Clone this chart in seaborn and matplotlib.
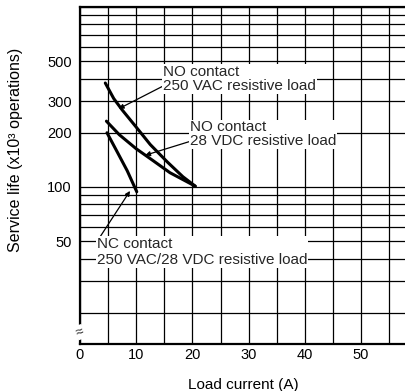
import matplotlib
matplotlib.use("Agg")
import matplotlib.pyplot as plt
import seaborn as sns
import pandas as pd
import numpy as np

# ---- data ----
no_ac_current = [4.5, 6.0, 7.5, 10.0, 12.5, 15.5, 18.3, 20.5]
no_ac_life = [378, 310, 268, 215, 172, 138, 114, 101]

no_dc_current = [4.7, 7.0, 10.0, 13.0, 16.0, 19.0, 20.5]
no_dc_life = [232, 195, 163, 140, 120, 107, 101]

nc_current = [4.8, 6.6, 8.4, 9.4, 10.1]
nc_life = [200, 157, 123, 105, 94]

y_tick_vals = [50, 100, 200, 300, 500]
y_grid_vals = [20, 30, 40, 60, 70, 80, 90, 400, 600, 700, 800, 900, 1000]
x_tick_vals = [0, 10, 20, 30, 40, 50]
x_grid_vals = [5, 15, 25, 35, 45, 55]

label_ac = "NO contact\n250 VAC resistive load"
label_dc = "NO contact\n28 VDC resistive load"
label_nc = "NC contact\n250 VAC/28 VDC resistive load"

sns.set_theme(style="white")
plt.rcParams["font.family"] = ["Liberation Sans", "DejaVu Sans"]

fig = plt.figure(figsize=(4.06, 3.91), dpi=100)
ax = fig.add_axes([80 / 406, 47 / 391, 326 / 406, 337 / 391])

df = pd.concat([
    pd.DataFrame({"x": no_ac_current, "y": no_ac_life, "s": "ac"}),
    pd.DataFrame({"x": no_dc_current, "y": no_dc_life, "s": "dc"}),
    pd.DataFrame({"x": nc_current, "y": nc_life, "s": "nc"}),
])
sns.lineplot(data=df, x="x", y="y", units="s", estimator=None, sort=False,
             color="black", linewidth=2.2, ax=ax, zorder=5)

ax.set_yscale("log")
ax.set_xlim(0, 58)
ax.set_ylim(13.4, 1000)

ax.set_yticks(y_tick_vals)
ax.set_yticklabels([str(v) for v in y_tick_vals])
ax.set_yticks(y_grid_vals, minor=True)
ax.set_yticklabels([], minor=True)
ax.set_xticks(x_tick_vals)
ax.set_xticklabels([str(v) for v in x_tick_vals])
ax.set_xticks(x_grid_vals, minor=True)

ax.tick_params(axis="y", which="major", direction="out", length=5, width=1,
               color="black", pad=1, labelsize=10.5, labelcolor="black")
ax.tick_params(axis="y", which="minor", length=0)
ax.tick_params(axis="x", which="both", length=0, pad=3, labelsize=10.5,
               labelcolor="black")

ax.grid(True, which="both", color="black", linewidth=0.9)
for side in ["left", "bottom", "top"]:
    ax.spines[side].set_color("black")
    ax.spines[side].set_linewidth(1.6)
ax.spines["right"].set_visible(False)

ax.set_xlabel("Load current (A)", fontsize=11, color="black")
ax.set_ylabel("Service life (x10³ operations)", fontsize=11.5, color="black")
ax.xaxis.set_label_coords(0.50, -0.10)
ax.yaxis.set_label_coords(-0.175, 0.575)

box = dict(facecolor="white", edgecolor="none", pad=0.6)
arrow = dict(arrowstyle="-|>", color="black", lw=0.9, mutation_scale=7,
             shrinkA=0, shrinkB=0)

ax.annotate(label_ac, xy=(6.9, 272), xytext=(14.8, 398), fontsize=11,
            ha="left", va="center", linespacing=1.0, bbox=box,
            arrowprops=dict(arrow, relpos=(0, 0.25)), zorder=6)
ax.annotate(label_dc, xy=(11.6, 150), xytext=(19.6, 196), fontsize=11,
            ha="left", va="center", linespacing=1.0, bbox=box,
            arrowprops=dict(arrow, relpos=(0, 0.25)), zorder=6)
ax.annotate(label_nc, xy=(8.9, 95), xytext=(3.0, 43.3), fontsize=11,
            ha="left", va="center", linespacing=1.2, bbox=box,
            arrowprops=dict(arrow, relpos=(0, 0.85)), zorder=6)

ax.text(0, 15.6, "≈", fontsize=10, ha="center", va="center", rotation=20,
        bbox=dict(facecolor="white", edgecolor="none", pad=0.2), zorder=7,
        clip_on=False)

fig.savefig("out.png", dpi=100)
